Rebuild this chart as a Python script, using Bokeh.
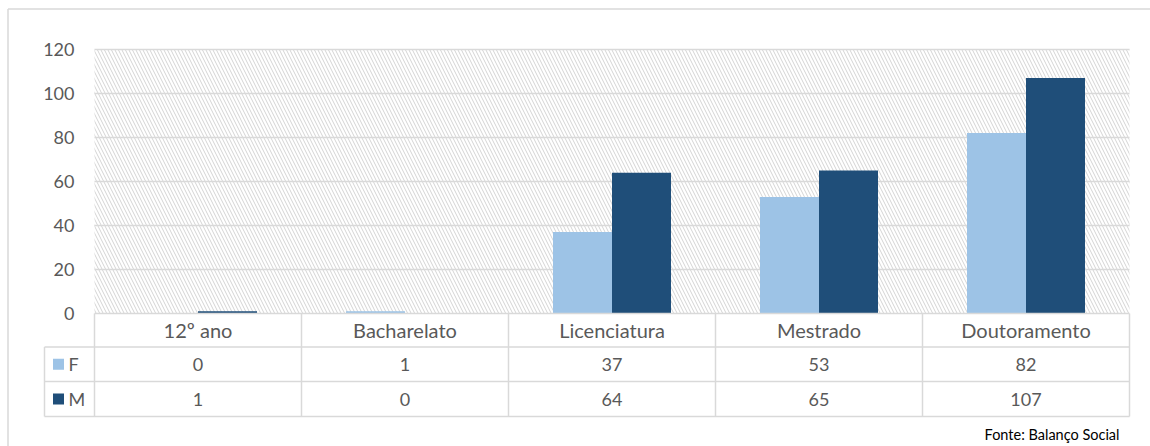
from bokeh.plotting import figure
from bokeh.models import Range1d
from bokeh.core.properties import value
from bokeh.embed import file_html
from bokeh.resources import INLINE

categories = ["12º ano", "Bacharelato", "Licenciatura", "Mestrado", "Doutoramento"]
f_values = [0, 1, 37, 53, 82]
m_values = [1, 0, 64, 65, 107]
series_names = ["F", "M"]
series_colors = ["#9DC3E6", "#1F4E79"]
y_ticks = [0, 20, 40, 60, 80, 100, 120]
source_note = "Fonte: Balanço Social"

FONT = value("Lato")
TXT = "#595959"
GRID = "#d9d9d9"

# layout constants (pixels -> data units)
PX_X = 207.0      # px per category
PX_Y = 2.2        # px per y unit
W, H = 1150, 446
left_px = 94
x0 = -left_px / PX_X
x1 = (W - left_px) / PX_X
top_px = 313
y1 = top_px / PX_Y
y0 = -(H - top_px) / PX_Y

def px_x(px):
    return (px - left_px) / PX_X

def px_y(py):
    return (top_px - py) / PX_Y

p = figure(width=W, height=H, output_backend="svg", toolbar_location=None,
           x_range=Range1d(x0, x1), y_range=Range1d(y0, y1),
           min_border=0, outline_line_color=None)
p.axis.visible = False
p.grid.visible = False
p.background_fill_color = "white"

n = len(categories)
ymax = y_ticks[-1]

# outer border (top and left)
p.segment(x0=[px_x(7.5)], y0=[px_y(8.5)], x1=[px_x(7.5)], y1=[y0], line_color=GRID, line_width=1.5)
p.segment(x0=[px_x(7.5)], y0=[px_y(8.5)], x1=[x1], y1=[px_y(8.5)], line_color=GRID, line_width=1.5)

# hatched plot area
p.quad(left=[0], right=[n], bottom=[0], top=[ymax], fill_color=None, line_color=None,
       hatch_pattern="\\", hatch_color="#d4d4d4", hatch_scale=7, hatch_weight=1)

# gridlines
gy = [t for t in y_ticks if t > 0]
p.segment(x0=[0] * len(gy), y0=gy, x1=[n] * len(gy), y1=gy, line_color=GRID, line_width=1.5)

# y tick labels
p.text(x=[px_x(74)] * len(y_ticks), y=y_ticks, text=[str(t) for t in y_ticks],
       text_align="right", text_baseline="middle", text_font=FONT,
       text_font_size="18px", text_color=TXT)

# bars
bw = 59 / PX_X
xs = [i + 0.5 for i in range(n)]
p.vbar(x=[x - bw / 2 for x in xs], top=f_values, width=bw, bottom=0,
       fill_color=series_colors[0], line_color=None)
p.vbar(x=[x + bw / 2 for x in xs], top=m_values, width=bw, bottom=0,
       fill_color=series_colors[1], line_color=None)

# data table
r0 = 0
r1 = px_y(346.5)
r2 = px_y(381)
r3 = px_y(416)
leg_left = px_x(44)
p.segment(x0=[0, leg_left, leg_left, leg_left], y0=[r0, r1, r2, r3],
          x1=[n] * 4, y1=[r0, r1, r2, r3], line_color=GRID, line_width=1.5)
vx = [leg_left] + list(range(n + 1))
vy0 = [r1] + [r0] * (n + 1)
p.segment(x0=vx, y0=vy0, x1=vx, y1=[r3] * len(vx), line_color=GRID, line_width=1.5)

p.text(x=xs, y=[(r0 + r1) / 2] * n, text=categories, text_align="center",
       text_baseline="middle", text_font=FONT, text_font_size="20px", text_color=TXT)
p.text(x=xs, y=[(r1 + r2) / 2] * n, text=[str(v) for v in f_values], text_align="center",
       text_baseline="middle", text_font=FONT, text_font_size="18px", text_color=TXT)
p.text(x=xs, y=[(r2 + r3) / 2] * n, text=[str(v) for v in m_values], text_align="center",
       text_baseline="middle", text_font=FONT, text_font_size="18px", text_color=TXT)

# legend keys
kx = px_x(58)
p.scatter(x=[kx, kx], y=[(r1 + r2) / 2, (r2 + r3) / 2], marker="square", size=11,
          fill_color=series_colors, line_color=None)
p.text(x=[px_x(68)] * 2, y=[(r1 + r2) / 2, (r2 + r3) / 2], text=series_names,
       text_align="left", text_baseline="middle", text_font=FONT,
       text_font_size="18px", text_color=TXT)

# source note
p.text(x=[px_x(1119)], y=[px_y(434)], text=[source_note],
       text_align="right", text_baseline="middle", text_font=FONT,
       text_font_size="14.5px", text_color="#000000")

open("out.html", "w").write(file_html(p, INLINE))
